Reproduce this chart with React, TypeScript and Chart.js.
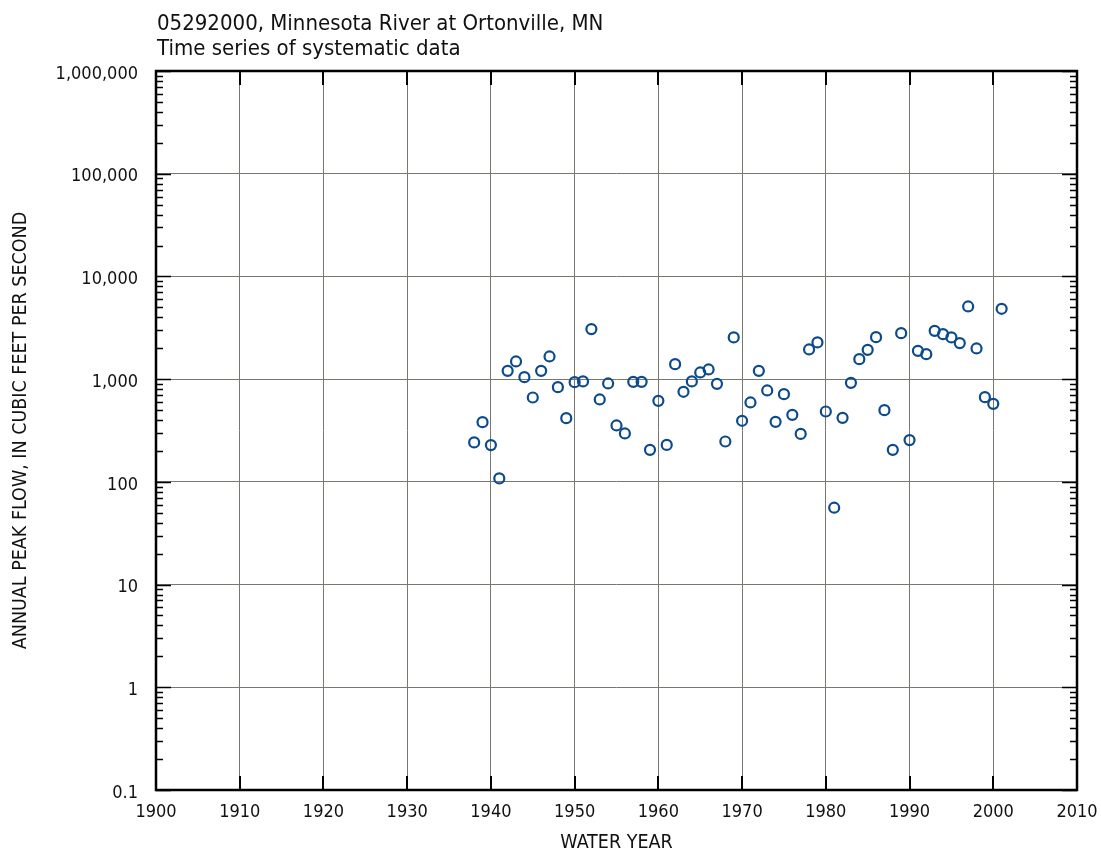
import React, { useEffect, useRef } from "react";
import { Chart, registerables } from "chart.js";

Chart.register(...registerables);

const years: number[] = [
  1938, 1939, 1940, 1941, 1942, 1943, 1944, 1945, 1946, 1947,
  1948, 1949, 1950, 1951, 1952, 1953, 1954, 1955, 1956, 1957,
  1958, 1959, 1960, 1961, 1962, 1963, 1964, 1965, 1966, 1967,
  1968, 1969, 1970, 1971, 1972, 1973, 1974, 1975, 1976, 1977,
  1978, 1979, 1980, 1981, 1982, 1983, 1984, 1985, 1986, 1987,
  1988, 1989, 1990, 1991, 1992, 1993, 1994, 1995, 1996, 1997,
  1998, 1999, 2000, 2001,
];

const peakFlow: number[] = [
  242, 381, 228, 108, 1205, 1486, 1046, 663, 1205, 1663,
  836, 417, 935, 950, 3069, 634, 908, 354, 296, 941,
  941, 205, 615, 229, 1400, 753, 950, 1162, 1243, 900,
  247, 2547, 393, 593, 1205, 776, 384, 714, 449, 293,
  1946, 2277, 484, 56, 420, 920, 1566, 1928, 2564, 499,
  205, 2805, 255, 1887, 1751, 2953, 2742, 2547, 2243, 5100,
  1990, 668, 575, 4840,
];

const yTickValues: number[] = [0.1, 1, 10, 100, 1000, 10000, 100000, 1000000];
const xTickYears: number[] = [1900, 1910, 1920, 1930, 1940, 1950, 1960, 1970, 1980, 1990, 2000, 2010];
const minorMultipliers: number[] = [2, 3, 4, 5, 6, 7, 8, 9];

const titleLines: string[] = [
  "05292000, Minnesota River at Ortonville, MN",
  "Time series of systematic data",
];
const xTitle = "WATER YEAR";
const yTitle = "ANNUAL PEAK FLOW, IN CUBIC FEET PER SECOND";

const FONT = '"Liberation Sans Narrow", "DejaVu Sans Condensed", "Arial Narrow", sans-serif';
const TEXT_COLOR = "#111111";
const GRID_COLOR = "#77776f";
const POINT_COLOR = "#0b4a8c";

const framePlugin = {
  id: "framePlugin",
  afterDraw(chart: any) {
    const { ctx, chartArea } = chart;
    const { left, right, top, bottom } = chartArea;
    const xs = chart.scales.x;
    const ys = chart.scales.y;
    ctx.save();
    ctx.strokeStyle = "#000000";
    ctx.lineWidth = 1.5;
    ctx.beginPath();
    yTickValues.forEach((v, i) => {
      const y = Math.round(ys.getPixelForValue(v)) + 0.5;
      ctx.moveTo(left, y);
      ctx.lineTo(left + 15, y);
      ctx.moveTo(right, y);
      ctx.lineTo(right - 15, y);
      if (i < yTickValues.length - 1) {
        minorMultipliers.forEach((m) => {
          const yy = Math.round(ys.getPixelForValue(v * m)) + 0.5;
          ctx.moveTo(left, yy);
          ctx.lineTo(left + 7, yy);
          ctx.moveTo(right, yy);
          ctx.lineTo(right - 7, yy);
        });
      }
    });
    ctx.stroke();
    ctx.lineWidth = 2;
    ctx.beginPath();
    xTickYears.forEach((yr) => {
      const x = Math.round(xs.getPixelForValue(yr));
      ctx.moveTo(x, bottom);
      ctx.lineTo(x, bottom - 14);
      ctx.moveTo(x, top);
      ctx.lineTo(x, top + 14);
    });
    ctx.stroke();
    ctx.lineWidth = 2.5;
    ctx.strokeRect(left, top, right - left, bottom - top);
    ctx.fillStyle = TEXT_COLOR;
    ctx.font = `22px ${FONT}`;
    ctx.textAlign = "left";
    ctx.textBaseline = "alphabetic";
    ctx.fillText(titleLines[0], left + 1, 30);
    ctx.fillText(titleLines[1], left + 1, 55);
    ctx.restore();
  },
};

export default function App() {
  const canvasRef = useRef<HTMLCanvasElement | null>(null);

  useEffect(() => {
    document.body.style.margin = "0";
    const canvas = canvasRef.current;
    if (!canvas) return;
    const points = years.map((yr, i) => ({ x: yr, y: peakFlow[i] }));
    const chart = new Chart(canvas, {
      type: "scatter",
      data: {
        datasets: [
          {
            data: points,
            pointStyle: "circle",
            pointRadius: 5,
            pointBorderWidth: 2.2,
            pointBorderColor: POINT_COLOR,
            pointBackgroundColor: "rgba(255,255,255,0)",
            showLine: false,
          },
        ],
      },
      options: {
        animation: false,
        responsive: false,
        devicePixelRatio: 1,
        layout: { padding: { left: 0, right: 24, top: 71, bottom: 0 } },
        plugins: {
          legend: { display: false },
          tooltip: { enabled: false },
          title: { display: false },
        },
        scales: {
          x: {
            type: "linear",
            min: 1900,
            max: 2010,
            afterBuildTicks: (scale: any) => {
              scale.ticks = xTickYears.map((v) => ({ value: v }));
            },
            afterFit: (scale: any) => {
              scale.height = 66;
              scale.paddingLeft = 0;
              scale.paddingRight = 0;
            },
            grid: { color: GRID_COLOR, lineWidth: 1, drawTicks: false },
            border: { display: false },
            ticks: {
              color: TEXT_COLOR,
              font: { family: FONT, size: 18 },
              padding: 12,
              maxRotation: 0,
              autoSkip: false,
              callback: (v: any) => String(v),
            },
            title: {
              display: true,
              text: xTitle,
              color: TEXT_COLOR,
              font: { family: FONT, size: 19.5 },
              padding: { top: 0, bottom: 1 },
            },
          },
          y: {
            type: "logarithmic",
            min: 0.1,
            max: 1000000,
            afterBuildTicks: (scale: any) => {
              scale.ticks = yTickValues.map((v) => ({ value: v }));
            },
            afterFit: (scale: any) => {
              scale.width = 156;
              scale.paddingTop = 0;
              scale.paddingBottom = 0;
            },
            grid: { color: GRID_COLOR, lineWidth: 1, drawTicks: false },
            border: { display: false },
            ticks: {
              color: TEXT_COLOR,
              font: { family: FONT, size: 18 },
              padding: 18,
              labelOffset: 3,
              autoSkip: false,
              callback: (v: any) => {
                const n = Number(v);
                return n < 1 ? String(n) : n.toLocaleString("en-US");
              },
            },
            title: {
              display: true,
              text: yTitle,
              color: TEXT_COLOR,
              font: { family: FONT, size: 19.5 },
              padding: { top: 9, bottom: 0 },
            },
          },
        },
      },
      plugins: [framePlugin],
    });
    return () => chart.destroy();
  }, []);

  return (
    <div style={{ width: 1101, height: 856 }}>
      <canvas ref={canvasRef} width={1101} height={856} style={{ display: "block" }} />
    </div>
  );
}
